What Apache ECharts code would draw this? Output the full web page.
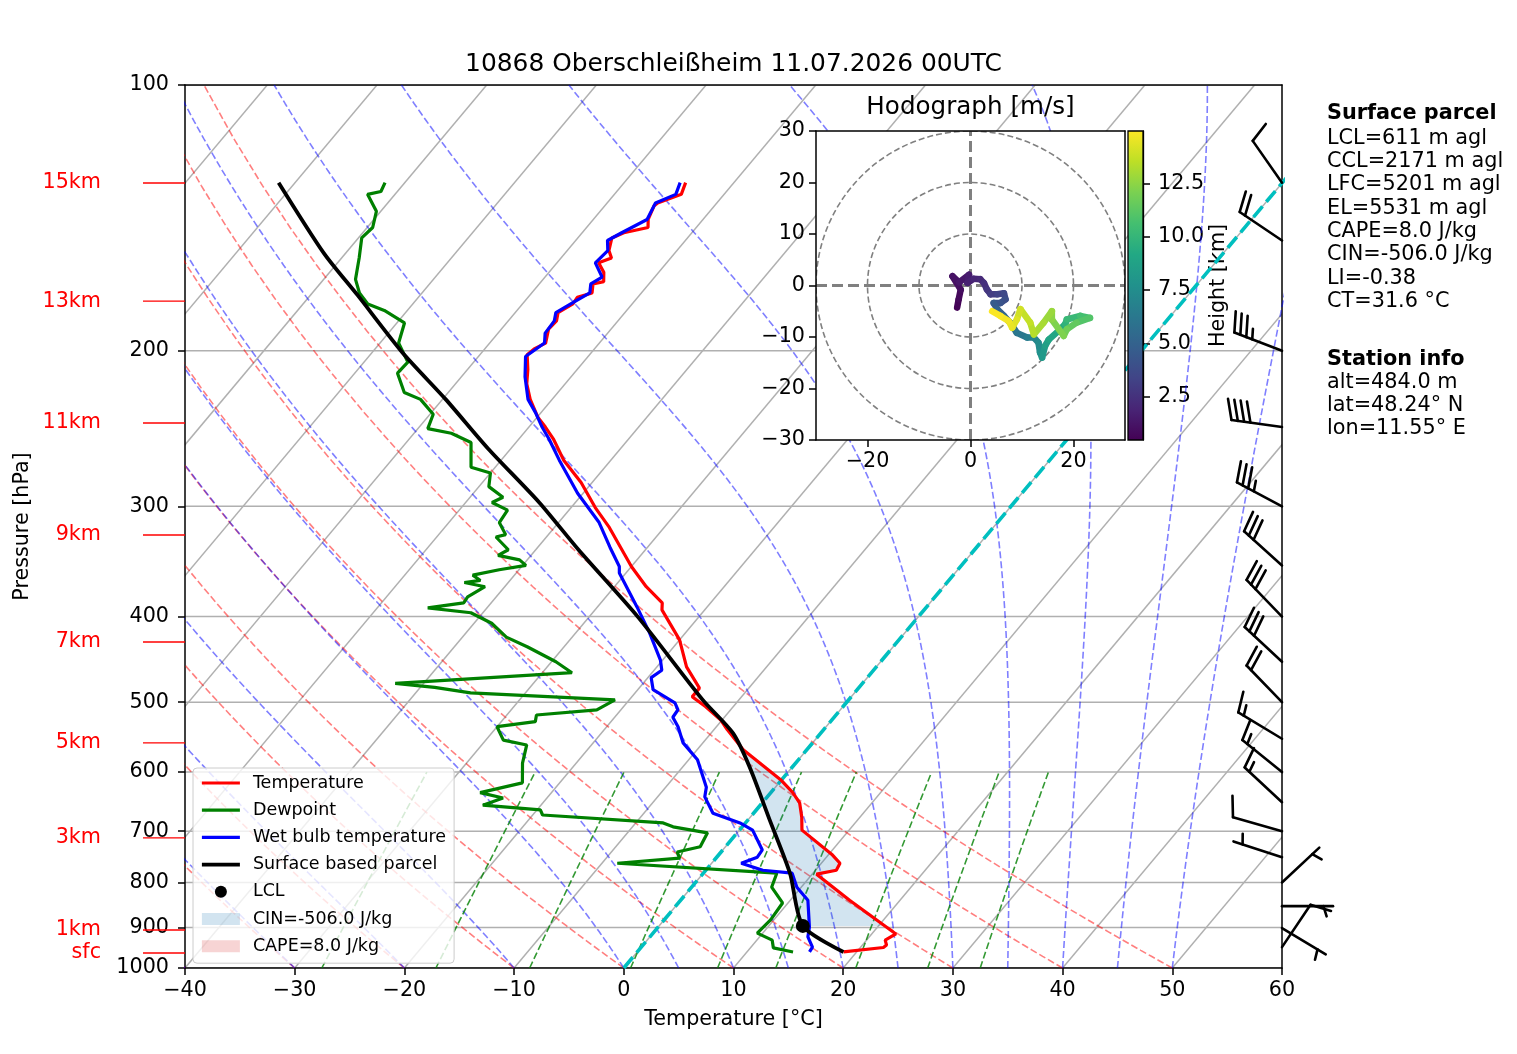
<!DOCTYPE html>
<html lang="de">
<head>
<meta charset="UTF-8">
<title>10868 Oberschleißheim 11.07.2026 00UTC</title>
<script src="https://cdn.jsdelivr.net/npm/echarts@6.0.0/dist/echarts.min.js"></script>
<style>
body{margin:0;background:#fff}
#chart{width:1517px;height:1054px}
</style>
</head>
<body>
<div id="chart"></div>
<script>
// sounding values (hPa, degC), surface to top
var tempPressure = [959, 948, 942, 930, 915, 838, 783, 775, 761, 745, 698, 675, 650, 633, 612, 566, 537, 524, 506, 493,
  482, 456, 425, 393, 386, 370, 351, 317, 301, 282, 266, 252, 244, 238, 227, 218, 210, 202, 199, 196,
  189, 185, 181, 177, 174, 172, 168, 167, 163, 159, 157, 154, 149, 147, 145, 142, 137, 136, 133, 129];
var tempValues = [18.8, 22.1, 22.2, 21.7, 22.2, 15.4, 10.4, 11.9, 11.7, 10.4, 5.7, 4.7, 3.4, 2.0, -0.1, -5.8, -8.8, -10.1, -12.5, -14.5,
  -14.5, -17.3, -20.0, -23.9, -24.4, -27.1, -30.0, -35.0, -37.8, -41.0, -44.3, -46.8, -48.5, -49.9, -52.0, -53.5, -54.5, -55.7, -55.5, -54.9,
  -55.7, -55.6, -56.1, -55.4, -55.5, -54.5, -55.1, -54.3, -55.0, -56.2, -55.4, -56.2, -56.9, -56.2, -54.4, -55.0, -55.5, -55.4, -53.9, -54.4];

var dewPressure = [959, 949, 930, 913, 882, 844, 810, 781, 761, 751, 739, 729, 703, 692, 685, 671, 662, 654, 642, 633,
  617, 586, 559, 552, 533, 526, 517, 510, 497, 488, 481, 476, 463, 450, 433, 422, 407, 396, 391, 386,
  380, 370, 366, 364, 359, 354, 350, 345, 341, 336, 325, 323, 313, 303, 297, 293, 285, 275, 271, 254,
  248, 245, 236, 227, 223, 212, 206, 196, 186, 180, 177, 172, 166, 157, 149, 145, 139, 133, 132, 129];
var dewValues = [14.2, 12.1, 11.4, 9.5, 9.7, 9.5, 7.3, 6.7, -8.6, -3.3, -4.0, -2.3, -2.7, -6.3, -7.5, -19.1, -19.7, -25.3, -24.0, -26.5,
  -23.4, -24.9, -25.9, -28.4, -30.0, -26.9, -27.3, -22.2, -21.3, -35.0, -38.7, -42.6, -27.3, -29.6, -33.3, -36.0, -38.4, -41.1, -45.4, -42.5,
  -42.6, -41.8, -44.0, -42.7, -43.8, -41.8, -39.7, -40.7, -43.0, -42.5, -44.6, -43.9, -45.4, -45.6, -47.6, -47.0, -49.1, -50.0, -52.2, -54.1,
  -56.6, -59.1, -59.7, -62.0, -64.0, -66.1, -66.0, -68.3, -69.3, -72.1, -74.1, -75.7, -77.1, -78.4, -79.7, -79.5, -80.4, -82.5, -81.5, -81.8];

var wetbulbPressure = [959, 947, 922, 899, 838, 810, 781, 775, 761, 749, 735, 698, 685, 668, 640, 624, 581, 556, 533, 520,
  510, 501, 484, 469, 460, 448, 417, 390, 357, 351, 334, 313, 290, 266, 252, 244, 235, 227, 214, 203,
  196, 191, 185, 181, 177, 172, 168, 165, 159, 154, 150, 147, 142, 136, 133, 129];
var wetbulbValues = [15.7, 15.6, 14.4, 13.8, 11.6, 9.6, 8.1, 5.2, 2.7, 3.7, 3.6, 1.2, -0.5, -3.7, -5.7, -6.3, -9.2, -11.8, -13.5, -14.7,
  -14.8, -15.6, -18.6, -19.7, -19.3, -20.2, -23.3, -26.4, -30.6, -31.1, -33.4, -36.3, -40.5, -44.7, -47.2, -48.8, -50.5, -52.2, -54.2, -55.7,
  -55.0, -55.7, -55.8, -56.3, -55.6, -54.7, -55.3, -54.8, -56.5, -56.3, -57.1, -56.4, -55.1, -55.6, -54.4, -54.9];

var parcelPressure = [959, 896, 781, 680, 592, 542, 497, 400, 336, 297, 258, 227, 201, 173, 155, 129];
var parcelValues = [18.8, 13.1, 7.9, 2.0, -3.9, -8.0, -13.3, -25.6, -36.1, -43.3, -52.1, -59.7, -67.2, -75.7, -82.0, -91.5];

var lclPressure = 896, lclTemperature = 13.1;
var lfcPressure = 508, elPressure = 486;
var capeValue = 8.0, cinValue = -506.0;

// wind barbs (knots, direction the wind blows from)
var barbPressure = [129, 150, 200, 244, 300, 350, 400, 450, 500, 550, 600, 649, 700, 749, 800, 851, 901, 947];
var barbDirection = [325, 304, 291, 278, 298, 312, 316, 313, 316, 301, 309, 313, 286, 288, 47, 90, 121, 34];
var barbSpeed = [10, 20, 35, 40, 35, 30, 30, 30, 20, 15, 15, 15, 10, 5, 5, 5, 5, 10];

// hodograph (km, m/s)
var hodoHeight = [0.48, 0.7, 0.9, 1.1, 1.3, 1.5, 1.7, 1.9, 2.1, 2.3, 2.6, 2.9, 3.2, 3.5, 3.8, 4.1, 4.4, 4.8, 5.2, 5.6,
  6.0, 6.4, 6.8, 7.2, 7.6, 8.0, 8.4, 8.8, 9.2, 9.6, 10.0, 10.4, 10.8, 11.2, 11.6, 12.0, 12.3, 12.6, 12.9, 13.2,
  13.5, 13.8, 14.1, 14.4, 14.6, 14.8, 14.95];
var hodoU = [-2.6, -2.3, -1.9, -3.5, -2.2, -0.3, -0.6, 0.6, 1.9, 2.6, 3.2, 3.9, 5.2, 6.5, 6.8, 5.8, 4.5, 5.2, 6.5, 7.7,
  9.0, 11.0, 12.3, 13.2, 13.5, 13.9, 14.5, 15.2, 17.1, 18.4, 18.7, 21.3, 23.2, 20.6, 18.7, 18.1, 15.8, 15.8, 14.2, 12.3,
  11.6, 9.7, 9.0, 8.1, 7.4, 5.8, 4.2];
var hodoV = [-4.3, -2.7, -0.8, 1.8, 0.6, 2.1, 0.5, 1.3, 1.2, 0.5, -0.8, -1.7, -1.7, -1.5, -2.7, -3.4, -3.4, -4.6, -5.9, -7.2,
  -9.2, -10.1, -10.1, -11.1, -13.0, -14.0, -11.7, -10.5, -8.8, -7.5, -6.6, -5.9, -6.3, -7.2, -8.5, -9.8, -6.6, -5.0, -7.2, -9.5,
  -7.2, -4.6, -6.6, -8.2, -6.9, -5.9, -5.0];

// ticks and labels
var pressureTicks = [100, 200, 300, 400, 500, 600, 700, 800, 900, 1000];
var heightLabels = ['15km', '13km', '11km', '9km', '7km', '5km', '3km', '1km', 'sfc'];
var heightLabelPressures = [129.1, 175.7, 241.4, 323.3, 427.3, 556, 712.2, 905.6, 961.6];
var colorbarTicks = [2.5, 5, 7.5, 10, 12.5];
var hodoXTicks = [-20, 0, 20];
var dryT0 = [-40, -30, -20, -10, 0, 10, 20, 30, 40, 50];
var moistT0 = [-40, -30, -20, -10, 0, 5, 10, 15, 20, 25, 30, 35, 40, 45, 50];
var mixingRatios = [0.0004, 0.001, 0.002, 0.004, 0.007, 0.01, 0.016, 0.024, 0.032];
var isotherms = [-110, -100, -90, -80, -70, -60, -50, -40, -30, -20, -10, 0, 10, 20, 30, 40, 50, 60];

var titleText = '10868 Oberschleißheim 11.07.2026 00UTC';
var parcelInfo = ['LCL=611 m agl', 'CCL=2171 m agl', 'LFC=5201 m agl', 'EL=5531 m agl', 'CAPE=8.0 J/kg', 'CIN=-506.0 J/kg', 'LI=-0.38', 'CT=31.6 °C'];
var stationInfo = ['alt=484.0 m', 'lat=48.24° N', 'lon=11.55° E'];

var viridis = ['#440154', '#482475', '#414487', '#355f8d', '#2a788e', '#21918c', '#22a884', '#44bf70', '#7ad151', '#bddf26', '#fde725'];

var SKEW = 67.5;
var FONT = 'DejaVu Sans';
var TICK_FS = 20.7;

function zOf(p) { return Math.log(1000 / p) / Math.LN10; }
function skewPt(t, p) { var z = zOf(p); return [t + SKEW * z, z]; }
function profile(ps, ts) { return ps.map(function (p, i) { return skewPt(ts[i], p); }); }
function minus(v) { return String(v).replace('-', '\u2212'); }

function interpT(ps, ts, p) {
  var lp = Math.log(p);
  for (var i = 0; i < ps.length - 1; i++) {
    if (p <= ps[i] && p >= ps[i + 1]) {
      var a = Math.log(ps[i]), b = Math.log(ps[i + 1]);
      var f = (a - lp) / (a - b);
      return ts[i] + f * (ts[i + 1] - ts[i]);
    }
  }
  return NaN;
}

// area between parcel and environment
function buildFill(pBottom, pTop, parcelWarm) {
  var levels = [];
  for (var p = pBottom; p > pTop; p -= 1) levels.push(p);
  tempPressure.forEach(function (q) { if (q < pBottom && q > pTop) levels.push(q); });
  levels.push(pTop);
  levels.sort(function (a, b) { return b - a; });
  var right = [], left = [];
  levels.forEach(function (q) {
    var te = interpT(tempPressure, tempValues, q);
    var tp = interpT(parcelPressure, parcelValues, q);
    var lo = parcelWarm ? te : tp;
    right.push(skewPt(Math.max(te, tp), q));
    left.push(skewPt(lo, q));
  });
  return right.concat(left.reverse());
}

function dryAdiabat(t0) {
  var pts = [];
  for (var i = 0; i <= 60; i++) {
    var p = 1000 - i * 15;
    pts.push(skewPt((t0 + 273.15) * Math.pow(p / 1000, 0.28571) - 273.15, p));
  }
  return pts;
}

function moistAdiabat(t0) {
  var Rd = 287.04749, Cp = 1004.6662, Lv = 2.50084e6, eps = 0.6219569;
  function dTdp(p, T) {
    var tc = T - 273.15;
    var es = 6.112 * Math.exp(17.67 * tc / (tc + 243.5));
    var rs = eps * es / (p - es);
    return (Rd * T + Lv * rs) / (Cp + Lv * Lv * rs * eps / (Rd * T * T)) / p;
  }
  var T = t0 + 273.15, p = 1000, dp = -5;
  var pts = [skewPt(t0, p)];
  while (p > 100) {
    var k1 = dTdp(p, T);
    var k2 = dTdp(p + dp / 2, T + dp / 2 * k1);
    var k3 = dTdp(p + dp / 2, T + dp / 2 * k2);
    var k4 = dTdp(p + dp, T + dp * k3);
    T += dp / 6 * (k1 + 2 * k2 + 2 * k3 + k4);
    p += dp;
    pts.push(skewPt(T - 273.15, p));
  }
  return pts;
}

function mixingLine(w) {
  var pts = [];
  for (var p = 1000; p >= 600; p -= 20) {
    var e = p * w / (0.6219569 + w);
    var val = Math.log(e / 6.112);
    pts.push(skewPt(243.5 * val / (17.67 - val), p));
  }
  return pts;
}

function barbShapes(bx, by, dir, spd, L) {
  var r = dir * Math.PI / 180;
  var sx = Math.sin(r), sy = -Math.cos(r);
  var cx = Math.cos(r), cy = Math.sin(r);
  function pt(a, b) { return [bx + b * sx + a * cx, by + b * sy + a * cy]; }
  var H = 0.4 * L, W = 0.25 * L, S = 0.125 * L;
  var n = Math.round(spd / 5) * 5;
  var flags = Math.floor(n / 50); n -= flags * 50;
  var full = Math.floor(n / 10); n -= full * 10;
  var half = n >= 5;
  var st = { stroke: '#000', lineWidth: 2.6, lineCap: 'round', lineJoin: 'round', fill: null };
  var out = [{ type: 'polyline', shape: { points: [pt(0, 0), pt(0, L)] }, style: st }];
  var off = L, i;
  for (i = 0; i < flags; i++) {
    out.push({ type: 'polygon', shape: { points: [pt(0, off), pt(H, off - W / 2), pt(0, off - W)] }, style: { fill: '#000' } });
    off -= W + S;
  }
  for (i = 0; i < full; i++) {
    out.push({ type: 'polyline', shape: { points: [pt(0, off), pt(H, off + W / 2)] }, style: st });
    off -= S;
  }
  if (half) {
    if (off === L) off -= 1.5 * S;
    out.push({ type: 'polyline', shape: { points: [pt(0, off), pt(H / 2, off + W / 4)] }, style: st });
  }
  return out;
}

var series = [];
function bgLine(data, color, width, dash) {
  series.push({ type: 'line', data: data, xAxisIndex: 0, yAxisIndex: 0, symbol: 'none', silent: true, z: 1,
    lineStyle: { color: color, width: width, type: dash } });
}

// gray isotherms and isobars
series.push({ type: 'custom', xAxisIndex: 0, yAxisIndex: 0, silent: true, clip: true, z: 0,
  data: isotherms.map(function (t) { return [t, 0, t + SKEW, 1]; }), encode: { x: [0, 2], y: [1, 3] },
  renderItem: function (params, api) {
    var a = api.coord([api.value(0), api.value(1)]), b = api.coord([api.value(2), api.value(3)]);
    return { type: 'line', shape: { x1: a[0], y1: a[1], x2: b[0], y2: b[1] }, style: { stroke: '#b0b0b0', lineWidth: 1.5 } };
  } });
series.push({ type: 'custom', xAxisIndex: 0, yAxisIndex: 0, silent: true, clip: true, z: 0,
  data: pressureTicks.map(function (p) { return [-40, zOf(p), 60, zOf(p)]; }), encode: { x: [0, 2], y: [1, 3] },
  renderItem: function (params, api) {
    var a = api.coord([api.value(0), api.value(1)]), b = api.coord([api.value(2), api.value(3)]);
    return { type: 'line', shape: { x1: a[0], y1: a[1], x2: b[0], y2: b[1] }, style: { stroke: '#b0b0b0', lineWidth: 1.5 } };
  } });

dryT0.forEach(function (t) { bgLine(dryAdiabat(t), 'rgba(255,0,0,0.5)', 1.6, [7, 3]); });
moistT0.forEach(function (t) { bgLine(moistAdiabat(t), 'rgba(0,0,255,0.5)', 1.6, [7, 3]); });
mixingRatios.forEach(function (w) { bgLine(mixingLine(w), 'rgba(0,128,0,0.8)', 1.6, [7, 3]); });
bgLine([[0, 0], [SKEW, 1]], '#00bfbf', 3.6, [14, 6]);

var cinName = 'CIN=' + cinValue.toFixed(1) + ' J/kg';
var capeName = 'CAPE=' + capeValue.toFixed(1) + ' J/kg';
var cinPoly = buildFill(lclPressure, lfcPressure, false);
var capePoly = buildFill(lfcPressure, elPressure, true);
function polySeries(name, poly, color) {
  return { type: 'custom', name: name, xAxisIndex: 0, yAxisIndex: 0, clip: true, silent: true, z: 2,
    itemStyle: { color: color }, data: [poly[0]], encode: { x: 0, y: 1 },
    renderItem: function (params, api) {
      return { type: 'polygon', shape: { points: poly.map(function (q) { return api.coord(q); }) }, style: { fill: color } };
    } };
}
series.push(polySeries(cinName, cinPoly, 'rgba(31,119,180,0.2)'));
series.push(polySeries(capeName, capePoly, 'rgba(214,39,40,0.2)'));

function profLine(name, data, color, width, smooth) {
  series.push({ type: 'line', name: name, data: data, xAxisIndex: 0, yAxisIndex: 0, symbol: 'none', z: 3,
    smooth: smooth || false,
    lineStyle: { color: color, width: width }, itemStyle: { color: color } });
}
profLine('Temperature', profile(tempPressure, tempValues), '#ff0000', 3.2);
profLine('Dewpoint', profile(dewPressure, dewValues), '#008000', 3.2);
profLine('Wet bulb temperature', profile(wetbulbPressure, wetbulbValues), '#0000ff', 3.2);
profLine('Surface based parcel', profile(parcelPressure, parcelValues), '#000000', 3.8, 0.25);
series.push({ type: 'scatter', name: 'LCL', xAxisIndex: 0, yAxisIndex: 0, z: 4, symbolSize: 14,
  itemStyle: { color: '#000', opacity: 1 }, data: [skewPt(lclTemperature, lclPressure)] });

// wind barbs along the right edge
series.push({ type: 'custom', xAxisIndex: 0, yAxisIndex: 0, clip: false, silent: true, z: 5,
  data: barbPressure.map(function (p, i) { return [60, zOf(p), barbDirection[i], barbSpeed[i]]; }), encode: { x: 0, y: 1 },
  renderItem: function (params, api) {
    var base = api.coord([api.value(0), api.value(1)]);
    return { type: 'group', children: barbShapes(base[0], base[1], api.value(2), api.value(3), 51) };
  } });

// height labels on the left
series.push({ type: 'custom', xAxisIndex: 0, yAxisIndex: 0, clip: false, silent: true, z: 5,
  data: heightLabelPressures.map(function (p) { return [-40, zOf(p)]; }), encode: { x: 0, y: 1 },
  renderItem: function (params, api) {
    var pt = api.coord([api.value(0), api.value(1)]);
    return { type: 'group', children: [
      { type: 'line', shape: { x1: pt[0] - 42, y1: pt[1], x2: pt[0], y2: pt[1] }, style: { stroke: '#ff0000', lineWidth: 1.4 } },
      { type: 'text', x: pt[0] - 84, y: pt[1], style: { text: heightLabels[params.dataIndex], fill: '#ff0000',
        fontSize: TICK_FS, fontFamily: FONT, align: 'right', verticalAlign: 'middle', textAlign: 'right', textVerticalAlign: 'middle' } }
    ] };
  } });

// hodograph
var hMin = hodoHeight[0], hMax = hodoHeight[hodoHeight.length - 1];
series.push({ type: 'custom', xAxisIndex: 2, yAxisIndex: 2, zlevel: 1, z: 1, silent: true, clip: false,
  data: [[-30, -30, 30, 30]], encode: { x: [0, 2], y: [1, 3] },
  renderItem: function (params, api) {
    var a = api.coord([api.value(0), api.value(3)]), b = api.coord([api.value(2), api.value(1)]);
    return { type: 'rect', shape: { x: a[0], y: a[1], width: b[0] - a[0], height: b[1] - a[1] }, style: { fill: '#fff' } };
  } });
series.push({ type: 'custom', xAxisIndex: 2, yAxisIndex: 2, zlevel: 1, z: 2, silent: true, clip: true,
  data: [[10, 0], [20, 0], [30, 0]], encode: { x: 0, y: 1 },
  renderItem: function (params, api) {
    var c = api.coord([0, 0]), e = api.coord([api.value(0), 0]);
    return { type: 'circle', shape: { cx: c[0], cy: c[1], r: e[0] - c[0] },
      style: { fill: null, stroke: '#808080', lineWidth: 1.6, lineDash: [6, 3] } };
  } });
series.push({ type: 'custom', xAxisIndex: 2, yAxisIndex: 2, zlevel: 1, z: 2, silent: true, clip: true,
  data: [[-30, 0, 30, 0], [0, -30, 0, 30]], encode: { x: [0, 2], y: [1, 3] },
  renderItem: function (params, api) {
    var a = api.coord([api.value(0), api.value(1)]), b = api.coord([api.value(2), api.value(3)]);
    return { type: 'line', shape: { x1: a[0], y1: a[1], x2: b[0], y2: b[1] },
      style: { stroke: '#808080', lineWidth: 3, lineDash: [11, 5] } };
  } });
var traceData = [];
for (var i = 0; i < hodoHeight.length - 1; i++) {
  traceData.push([hodoU[i], hodoV[i], hodoU[i + 1], hodoV[i + 1], (hodoHeight[i] + hodoHeight[i + 1]) / 2]);
}
var traceIndex = series.length;
series.push({ type: 'custom', xAxisIndex: 2, yAxisIndex: 2, zlevel: 1, z: 3, silent: true, clip: true,
  data: traceData, encode: { x: [0, 2], y: [1, 3] },
  renderItem: function (params, api) {
    var a = api.coord([api.value(0), api.value(1)]), b = api.coord([api.value(2), api.value(3)]);
    return { type: 'line', shape: { x1: a[0], y1: a[1], x2: b[0], y2: b[1] },
      style: { stroke: api.visual('color'), lineWidth: 6.5, lineCap: 'round' } };
  } });

// colorbar
series.push({ type: 'custom', xAxisIndex: 4, yAxisIndex: 4, silent: true, clip: false, z: 3,
  data: [[0, hMin, 1, hMax]], encode: { x: [0, 2], y: [1, 3] },
  renderItem: function (params, api) {
    var a = api.coord([api.value(0), api.value(3)]), b = api.coord([api.value(2), api.value(1)]);
    var stops = viridis.map(function (c, k) { return { offset: k / (viridis.length - 1), color: c }; });
    return { type: 'rect', shape: { x: a[0], y: a[1], width: b[0] - a[0], height: b[1] - a[1] },
      style: { fill: new echarts.graphic.LinearGradient(0, 1, 0, 0, stops), stroke: '#000', lineWidth: 1.3 } };
  } });

var axisFont = { fontFamily: FONT, fontSize: TICK_FS, color: '#000' };
var blackLine = { onZero: false, lineStyle: { color: '#000', width: 1.5 } };
var blackTick = { length: 7, lineStyle: { color: '#000', width: 1.5 } };
function frameAxis(grid, pos, min, max, extra) {
  var ax = { gridIndex: grid, type: 'value', position: pos, min: min, max: max,
    axisLine: blackLine, axisTick: { show: false }, axisLabel: { show: false }, splitLine: { show: false } };
  return Object.assign(ax, extra || {});
}

var graphics = [];
function addText(x, y, text, size, weight, align) {
  graphics.push({ type: 'text', x: x, y: y, silent: true, z: 20,
    style: { text: text, fill: '#000', fontSize: size, fontFamily: FONT, fontWeight: weight || 'normal',
      align: align || 'left', verticalAlign: 'middle', textAlign: align || 'left', textVerticalAlign: 'middle' } });
}
addText(733.5, 65, titleText, 24.9, 'normal', 'center');
addText(970.5, 108, 'Hodograph [m/s]', 24.6, 'normal', 'center');
addText(1327, 114, 'Surface parcel', 20.8, 'bold');
parcelInfo.forEach(function (t, k) { addText(1327, 138.5 + 23.3 * k, t, 20.8); });
addText(1327, 360, 'Station info', 20.8, 'bold');
stationInfo.forEach(function (t, k) { addText(1327, 382.5 + 23.1 * k, t, 20.8); });

var lineLegend = { itemStyle: { opacity: 0 }, lineStyle: { width: 3.2 } };
var option = {
  animation: false,
  backgroundColor: '#fff',
  textStyle: { fontFamily: FONT },
  grid: [
    { left: 185, top: 85, width: 1097, height: 883 },
    { left: 816, top: 131, width: 309, height: 309, zlevel: 1 },
    { left: 1128, top: 131, width: 15, height: 309 }
  ],
  xAxis: [
    { gridIndex: 0, type: 'value', min: -40, max: 60, interval: 10, position: 'bottom',
      axisLine: blackLine, axisTick: blackTick, splitLine: { show: false },
      axisLabel: Object.assign({ margin: 12, formatter: minus }, axisFont),
      name: 'Temperature [°C]', nameLocation: 'middle', nameGap: 41, nameTextStyle: axisFont },
    frameAxis(0, 'top', -40, 60),
    { gridIndex: 1, type: 'value', min: -30, max: 30, position: 'bottom', zlevel: 1, z: 10,
      axisLine: blackLine, axisTick: Object.assign({ customValues: hodoXTicks }, blackTick), splitLine: { show: false },
      axisLabel: Object.assign({ margin: 11, formatter: minus, customValues: hodoXTicks }, axisFont) },
    frameAxis(1, 'top', -30, 30, { zlevel: 1, z: 10 }),
    { gridIndex: 2, type: 'value', min: 0, max: 1, show: false }
  ],
  yAxis: [
    { gridIndex: 0, type: 'value', min: 0, max: 1, position: 'left',
      axisLine: blackLine, axisTick: Object.assign({ customValues: pressureTicks.map(zOf) }, blackTick), splitLine: { show: false },
      axisLabel: Object.assign({ margin: 16, showMinLabel: true, showMaxLabel: true, customValues: pressureTicks.map(zOf),
        formatter: function (v) { return String(Math.round(1000 / Math.pow(10, v))); } }, axisFont),
      name: 'Pressure [hPa]', nameLocation: 'middle', nameRotate: 90, nameGap: 152, nameTextStyle: axisFont },
    frameAxis(0, 'right', 0, 1),
    { gridIndex: 1, type: 'value', min: -30, max: 30, interval: 10, position: 'left', zlevel: 1, z: 10,
      axisLine: blackLine, axisTick: blackTick, splitLine: { show: false },
      axisLabel: Object.assign({ margin: 11, formatter: minus, showMinLabel: true, showMaxLabel: true }, axisFont) },
    frameAxis(1, 'right', -30, 30, { zlevel: 1, z: 10 }),
    { gridIndex: 2, type: 'value', min: hMin, max: hMax, position: 'right',
      axisLine: { onZero: false, lineStyle: { color: '#000', width: 1.3 } },
      axisTick: Object.assign({ customValues: colorbarTicks }, blackTick), splitLine: { show: false },
      axisLabel: Object.assign({ margin: 15, customValues: colorbarTicks, formatter: function (v) { return v.toFixed(1); } }, axisFont),
      name: 'Height [km]', nameLocation: 'middle', nameRotate: 90, nameGap: 56, nameTextStyle: axisFont }
  ],
  visualMap: [{ type: 'continuous', show: false, seriesIndex: traceIndex, dimension: 4, min: hMin, max: hMax,
    inRange: { color: viridis } }],
  legend: {
    left: 193, top: 768, orient: 'vertical', z: 10,
    padding: [6, 8, 8, 7], itemWidth: 38, itemHeight: 12, itemGap: 9.2,
    backgroundColor: 'rgba(255,255,255,0.8)', borderColor: '#cccccc', borderWidth: 1, borderRadius: 4,
    textStyle: { fontFamily: FONT, fontSize: 17.5, color: '#000', padding: [0, 0, 0, 8] },
    data: [
      Object.assign({ name: 'Temperature' }, lineLegend),
      Object.assign({ name: 'Dewpoint' }, lineLegend),
      Object.assign({ name: 'Wet bulb temperature' }, lineLegend),
      { name: 'Surface based parcel', itemStyle: { opacity: 0 }, lineStyle: { width: 3.8 } },
      { name: 'LCL', icon: 'circle', itemStyle: { color: '#000', opacity: 1 } },
      { name: cinName, icon: 'rect' }, { name: capeName, icon: 'rect' }
    ]
  },
  graphic: graphics,
  series: series
};

var chart = echarts.init(document.getElementById('chart'));
chart.setOption(option);
</script>
</body>
</html>
